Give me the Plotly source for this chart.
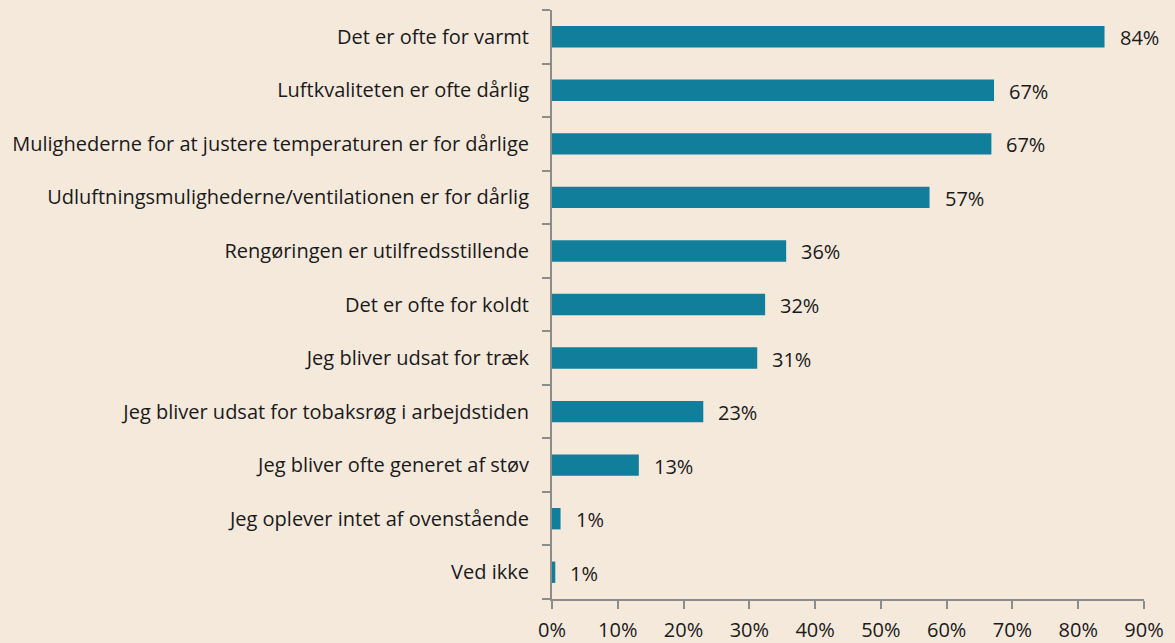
import plotly.graph_objects as go

categories = [
    "Det er ofte for varmt",
    "Luftkvaliteten er ofte dårlig",
    "Mulighederne for at justere temperaturen er for dårlige",
    "Udluftningsmulighederne/ventilationen er for dårlig",
    "Rengøringen er utilfredsstillende",
    "Det er ofte for koldt",
    "Jeg bliver udsat for træk",
    "Jeg bliver udsat for tobaksrøg i arbejdstiden",
    "Jeg bliver ofte generet af støv",
    "Jeg oplever intet af ovenstående",
    "Ved ikke",
]
values = [84.0, 67.2, 66.8, 57.4, 35.6, 32.4, 31.2, 23.0, 13.2, 1.3, 0.5]
value_labels = ["84%", "67%", "67%", "57%", "36%", "32%", "31%", "23%", "13%", "1%", "1%"]
x_ticks = [0, 10, 20, 30, 40, 50, 60, 70, 80, 90]
x_tick_labels = [f"{t}%" for t in x_ticks]

BG = "#F5E9DC"
BAR = "#117F9B"
AXIS = "#8C8C8C"
FONT = "Open Sans"
TXT = "#1a1a1a"

fig = go.Figure()
fig.add_trace(go.Bar(
    x=values, y=categories, orientation="h",
    marker=dict(color=BAR, line=dict(width=0)),
    hoverinfo="skip",
))

for cat, v, lab in zip(categories, values, value_labels):
    fig.add_annotation(x=v, y=cat, text=lab, showarrow=False,
                       xanchor="left", xshift=13, yshift=-1,
                       font=dict(family=FONT, size=20, color=TXT))

fig.update_layout(
    width=1175, height=643,
    paper_bgcolor=BG, plot_bgcolor=BG,
    margin=dict(l=552, r=31, t=10, b=44, autoexpand=False),
    bargap=0.6,
    showlegend=False,
    font=dict(family=FONT, size=20, color=TXT),
)
fig.update_xaxes(
    range=[0, 90], tickvals=x_ticks, ticktext=x_tick_labels,
    showgrid=False, zeroline=False,
    showline=True, linecolor=AXIS, linewidth=2,
    ticks="outside", ticklen=8, tickwidth=2, tickcolor=AXIS,
    ticklabelstandoff=4,
    tickfont=dict(family=FONT, size=20, color=TXT),
    fixedrange=True,
)
fig.update_yaxes(
    categoryorder="array", categoryarray=categories[::-1],
    showgrid=False, zeroline=False,
    showline=True, linecolor=AXIS, linewidth=2,
    ticks="outside", ticklen=8, tickwidth=2, tickcolor=AXIS,
    tickson="boundaries",
    ticklabelstandoff=17,
    tickfont=dict(family=FONT, size=20, color=TXT),
    fixedrange=True,
)

# drop the default page margin so the chart fills the window edge to edge
fig.write_html("out.html", config={"displayModeBar": False},
               post_script="document.body.style.margin='0';"
                           "document.body.style.background='%s';" % BG)
